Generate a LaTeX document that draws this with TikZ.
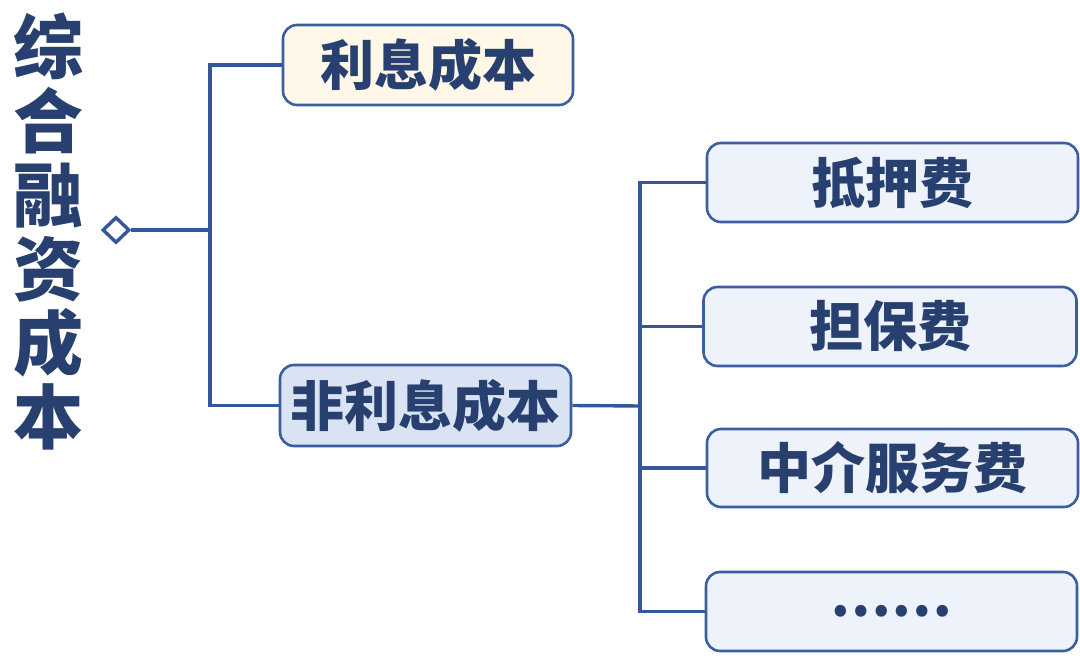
\documentclass[tikz,border=0pt]{standalone}
\usepackage{fontspec}
\usetikzlibrary{shapes.geometric}
\newfontfamily\cjk{Noto Sans CJK SC}
\definecolor{txt}{HTML}{27406F}
\definecolor{edge}{HTML}{3A5EA0}
\definecolor{wire}{HTML}{34569A}
\definecolor{cream}{HTML}{FFF8E8}
\definecolor{midblue}{HTML}{DAE3F3}
\definecolor{paleblue}{HTML}{EEF2FA}
\tikzset{
  box/.style={draw=edge, line width=2.6pt, rounded corners=14pt, rectangle,
    text=txt, font=\cjk\bfseries\fontsize{54}{60}\selectfont, inner sep=0pt},
  wirestyle/.style={draw=wire, line width=3.4pt},
}
\begin{document}
\begin{tikzpicture}[x=1pt,y=-1pt]
\useasboundingbox[fill=white] (0,0) rectangle (1080,660);
\node[text=txt, font=\cjk\bfseries\fontsize{70}{74}\selectfont, align=center, inner sep=0pt] (title) at (48,232) {综\\合\\融\\资\\成\\本};
\node[draw=wire, line width=3.4pt, fill=white, diamond, minimum width=27pt, minimum height=26pt, inner sep=0pt] (dia) at (116,230) {};
\node[box, fill=cream, minimum width=290pt, minimum height=80pt] (b1) at (428,65) {利息成本};
\node[box, fill=midblue, minimum width=291pt, minimum height=81pt] (b2) at (425.5,405.5) {非利息成本};
\node[box, fill=paleblue, minimum width=371pt, minimum height=79pt] (c1) at (892.5,182.5) {抵押费};
\node[box, fill=paleblue, minimum width=373pt, minimum height=79pt] (c2) at (890,326.5) {担保费};
\node[box, fill=paleblue, minimum width=371pt, minimum height=78pt] (c3) at (892.5,468) {中介服务费};
\node[box, fill=paleblue, minimum width=371pt, minimum height=79pt] (c4) at (891.5,611.5) {……};
\coordinate (j1) at (210,230);
\coordinate (j2) at (640,406);
\draw[wirestyle] (dia.east) -- (j1);
\draw[wirestyle] (j1) |- (b1.west);
\draw[wirestyle] (j1) |- (b2.west);
\draw[wirestyle] (b2.east) -- (j2);
\draw[wirestyle] (j2) |- (c1.west);
\draw[wirestyle] (j2) |- (c2.west);
\draw[wirestyle] (j2) |- (c3.west);
\draw[wirestyle] (j2) |- (c4.west);
\end{tikzpicture}
\end{document}
